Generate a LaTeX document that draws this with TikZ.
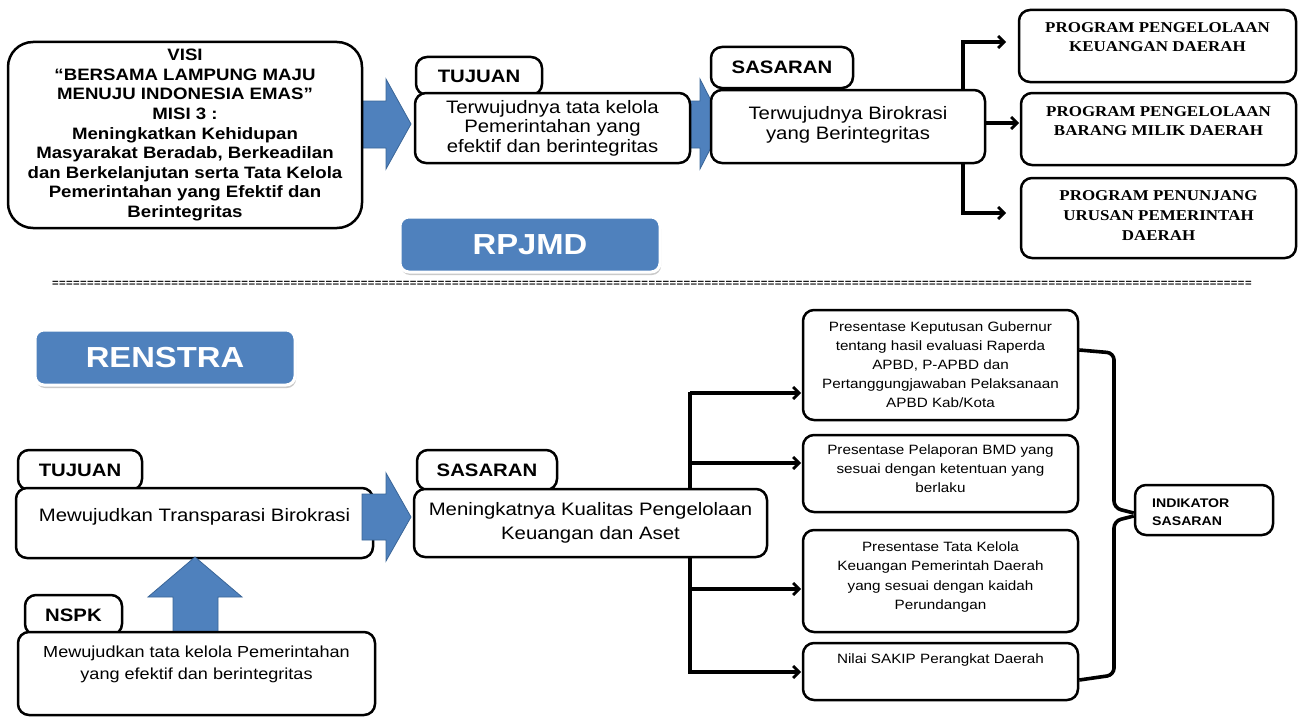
\documentclass[tikz,border=0pt]{standalone}
\usepackage{fontspec}
\setmainfont{Liberation Sans}[FakeStretch=1.13]
\newfontfamily\progfont{Liberation Serif}[FakeStretch=1.13]
\usetikzlibrary{arrows.meta,shadows}
\definecolor{blu}{HTML}{4F81BD}
\definecolor{bluedge}{HTML}{3A6597}
\begin{document}
\begin{tikzpicture}[x=1pt,y=-1pt,
  box/.style={draw, line width=2.5pt, rounded corners=11pt, fill=white, align=center, inner sep=0pt},
  lbl/.style={box, font=\bfseries\fontsize{18}{20}\selectfont},
  conn/.style={line width=3.2pt, -{Straight Barb[length=6pt,width=12pt,line width=2.8pt]}},
  blockarrow/.style={fill=blu, draw=bluedge, line width=0.8pt},
  button/.style={fill=blu, draw=white, line width=3pt, rounded corners=9pt, text=white,
     font=\bfseries\fontsize{29}{32}\selectfont,
     drop shadow={shadow xshift=1pt, shadow yshift=-3pt, opacity=.35, fill=black!60}},
  body/.style={align=center, inner sep=0pt}
]
\useasboundingbox (0,0) rectangle (1298,717);

% ---------- block arrows (drawn first) ----------
\draw[blockarrow] (360,101) -- (386,101) -- (386,79) -- (411,124) -- (386,169) -- (386,148) -- (360,148) -- cycle;
\draw[blockarrow] (676,101) -- (700,101) -- (700,79) -- (723,124) -- (700,169) -- (700,148) -- (676,148) -- cycle;

% ---------- top row ----------
\node[box, rounded corners=25pt, minimum width=354pt, minimum height=186pt,
      font=\bfseries\fontsize{16.5}{19.6}\selectfont] (visi) at (185,135)
  {VISI\\``BERSAMA LAMPUNG MAJU\\MENUJU INDONESIA EMAS''\\MISI 3 :\\Meningkatkan Kehidupan\\Masyarakat Beradab, Berkeadilan\\dan Berkelanjutan serta Tata Kelola\\Pemerintahan yang Efektif dan\\Berintegritas};

\node[lbl, minimum width=126pt, minimum height=38pt] (tujuanlbl) at (479,76) {TUJUAN};
\node[box, minimum width=275pt, minimum height=70pt, font=\fontsize{18}{19.5}\selectfont] (tujuan) at (552.5,128)
  {Terwujudnya tata kelola\\Pemerintahan yang\\efektif dan berintegritas};

\node[lbl, minimum width=142pt, minimum height=41pt] (sasaranlbl) at (782,67.5) {SASARAN};
\node[box, minimum width=274pt, minimum height=73pt] (sasaran) at (848,126.5) {};
\node[body, font=\fontsize{18}{20}\selectfont] (sasarantxt) at (848,125) {Terwujudnya Birokrasi\\yang Berintegritas};

\node[box, minimum width=277pt, minimum height=72pt] (p1) at (1157.5,46) {};
\node[body, font=\progfont\bfseries\fontsize{15}{19}\selectfont] (p1t) at (1157.5,37.5) {PROGRAM PENGELOLAAN\\KEUANGAN DAERAH};
\node[box, minimum width=275pt, minimum height=72pt] (p2) at (1158.5,129) {};
\node[body, font=\progfont\bfseries\fontsize{15}{19}\selectfont] (p2t) at (1158.5,121) {PROGRAM PENGELOLAAN\\BARANG MILIK DAERAH};
\node[box, minimum width=275pt, minimum height=80pt] (p3) at (1158.5,218) {};
\node[body, font=\progfont\bfseries\fontsize{15}{20}\selectfont] (p3t) at (1158.5,216) {PROGRAM PENUNJANG\\URUSAN PEMERINTAH\\DAERAH};

\coordinate (c1) at (1006,42);
\coordinate (c2) at (1019,123);
\coordinate (c3) at (1006,213);
\draw[conn] (sasaran.north -| 963,0) |- (c1);
\draw[conn] (sasaran.east |- c2) -- (c2);
\draw[conn] (sasaran.south -| 963,0) |- (c3);

\node[button, minimum width=260pt, minimum height=55pt] (rpjmd) at (530,244.5) {RPJMD};

% ---------- separator ----------
\node[inner sep=0pt, font=\bfseries\fontsize{10}{10}\selectfont, text=black] (sep) at (652,284)
  {\hbox to 1200pt{\xleaders\hbox{=\kern0.4pt}\hfill}};

% ---------- bottom part ----------
\node[button, minimum width=260pt, minimum height=55pt] (renstra) at (165,357.5) {RENSTRA};

\node[lbl, minimum width=124pt, minimum height=40pt] (btujuanlbl) at (80,470) {TUJUAN};
\node[box, minimum width=357pt, minimum height=70pt] (btujuan) at (194.5,523) {};
\node[body, font=\fontsize{18}{20}\selectfont] (btujuantxt) at (194.5,517) {Mewujudkan Transparasi Birokrasi};

\node[lbl, minimum width=97pt, minimum height=40pt] (nspklbl) at (73.5,615) {NSPK};
% up arrow
\draw[blockarrow] (173,634) -- (173,597) -- (148,597) -- (195,557) -- (242,597) -- (218,597) -- (218,634) -- cycle;
\node[box, minimum width=357pt, minimum height=83pt] (nspk) at (196.5,673.5) {};
\node[body, font=\fontsize{16}{22}\selectfont] (nspktxt) at (196.5,664) {Mewujudkan tata kelola Pemerintahan\\yang efektif dan berintegritas};

% right block arrow
\draw[blockarrow] (362,494) -- (386,494) -- (386,473) -- (411,517) -- (386,561) -- (386,540) -- (362,540) -- cycle;

% trunk and branches
\coordinate (b1) at (801,393);
\coordinate (b2) at (801,463);
\coordinate (b3) at (801,589);
\coordinate (b4) at (801,672);
\draw[line width=3.2pt] (690,392) -- (690,673.6);
\draw[conn] (690,393) -- (b1);
\draw[conn] (690,463) -- (b2);
\draw[conn] (690,589) -- (b3);
\draw[conn] (690,672) -- (b4);

\node[lbl, minimum width=140pt, minimum height=40pt] (bsasaranlbl) at (487,470) {SASARAN};
\node[box, minimum width=353pt, minimum height=68pt, font=\fontsize{18}{24}\selectfont] (bsasaran) at (590.5,523)
  {Meningkatnya Kualitas Pengelolaan\\Keuangan dan Aset};

\node[box, minimum width=275pt, minimum height=110pt, font=\fontsize{13.5}{19}\selectfont] (i1) at (940.5,365)
  {Presentase Keputusan Gubernur\\tentang hasil evaluasi Raperda\\APBD, P-APBD dan\\Pertanggungjawaban Pelaksanaan\\APBD Kab/Kota};
\node[box, minimum width=275pt, minimum height=77pt] (i2) at (940.5,473.5) {};
\node[body, font=\fontsize{13.5}{19}\selectfont] (i2t) at (940.5,469) {Presentase Pelaporan BMD yang\\sesuai dengan ketentuan yang\\berlaku};
\node[box, minimum width=275pt, minimum height=102pt] (i3) at (940.5,581) {};
\node[body, font=\fontsize{13.5}{19.5}\selectfont] (i3t) at (940.5,577) {Presentase Tata Kelola\\Keuangan Pemerintah Daerah\\yang sesuai dengan kaidah\\Perundangan};
\node[box, minimum width=275pt, minimum height=57pt] (i4) at (940.5,671.5) {};
\node[body, font=\fontsize{13.5}{19}\selectfont] (i4t) at (940.5,660) {Nilai SAKIP Perangkat Daerah};

\node[box, minimum width=138pt, minimum height=50pt] (indik) at (1204,510) {};
\node[inner sep=0pt, align=left, anchor=west, font=\bfseries\fontsize{12.5}{18}\selectfont] (indikt) at (1152,512) {INDIKATOR\\SASARAN};

% brace
\draw[line width=3.6pt, rounded corners=7pt] (i1.east |- 0,350) -- (1114,353) -- (1114,508) -- (indik.west |- 0,513);
\draw[line width=3.6pt, rounded corners=7pt] (indik.west |- 0,516) -- (1114,521) -- (1114,675) -- (i4.east |- 0,680);

\end{tikzpicture}
\end{document}
